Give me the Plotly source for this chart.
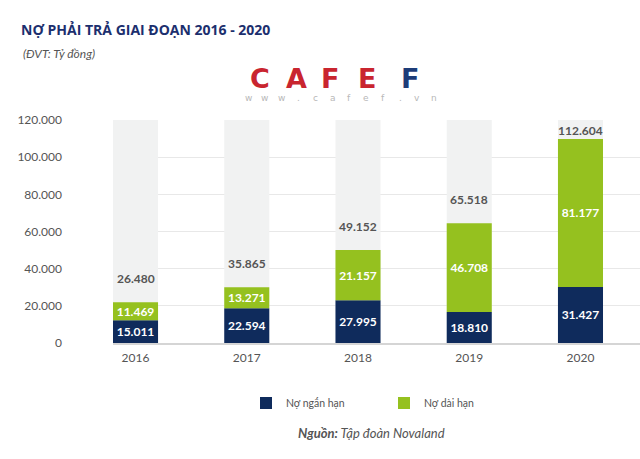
import plotly.graph_objects as go

# ---------------- data ----------------
years = ["2016", "2017", "2018", "2019", "2020"]
# segment heights as drawn in the reference (tỷ đồng)
short_term = [12200, 18700, 23000, 16700, 30200]
long_term = [9700, 11300, 27000, 47700, 79600]
# printed value labels
short_labels = ["15.011", "22.594", "27.995", "18.810", "31.427"]
long_labels = ["11.469", "13.271", "21.157", "46.708", "81.177"]
total_labels = ["26.480", "35.865", "49.152", "65.518", "112.604"]
y_tick_vals = [0, 20000, 40000, 60000, 80000, 100000, 120000]
y_tick_text = ["0", "20.000", "40.000", "60.000", "80.000", "100.000", "120.000"]

# ---------------- style ----------------
W, H = 640, 459
ML, MR, MT, MB = 113, 0, 120, 116
Y_MAX = 120000
NAVY = "#0f2b5c"
GREEN = "#95c11f"
BG_BAR = "#f1f2f2"
GREY_TXT = "#555555"
TITLE_C = "#1c2f6e"
FONT = "Lato"

plot_w = W - ML - MR
plot_h = H - MT - MB


def pxx(x):
    return (x - ML) / plot_w


def pxy(y):
    return (H - MB - y) / plot_h


fig = go.Figure()

fig.add_trace(go.Bar(
    x=years, y=[Y_MAX] * len(years), marker_color=BG_BAR, marker_line_width=0,
    width=0.405, showlegend=False, hoverinfo="skip"))

fig.add_trace(go.Bar(
    x=years, y=short_term, name="Nợ ngắn hạn", marker_color=NAVY,
    marker_line_width=0, width=0.405, text=short_labels,
    textposition="inside", insidetextanchor="middle", constraintext="none",
    textfont=dict(family=FONT, size=12, color="white", weight="bold")))

fig.add_trace(go.Bar(
    x=years, y=long_term, base=short_term, name="Nợ dài hạn",
    marker_color=GREEN, marker_line_width=0, width=0.405, text=long_labels,
    textposition="inside", insidetextanchor="middle", constraintext="none",
    textfont=dict(family=FONT, size=12, color="white", weight="bold")))

annotations = []
shift_units = 24 * Y_MAX / plot_h
cap = Y_MAX * 0.952
for i, (s, l, t) in enumerate(zip(short_term, long_term, total_labels)):
    annotations.append(dict(
        x=i, y=min(s + l + shift_units, cap), xref="x", yref="y", text=t,
        showarrow=False, yanchor="middle",
        font=dict(family=FONT, size=12, color=GREY_TXT, weight="bold")))

# subtitle
annotations.append(dict(
    x=pxx(21), y=pxy(53), xref="paper", yref="paper", text="<i>(ĐVT: Tỷ đồng)</i>",
    showarrow=False, xanchor="left", yanchor="middle",
    font=dict(family=FONT, size=12, color=GREY_TXT)))

# watermark logo (text)
logo_letters = [("C", 260, "#c9252f"), ("A", 296, "#c9252f"), ("F", 330, "#c9252f"),
                ("E", 367, "#c9252f"), ("F", 410, "#1d3c78")]
for ch, cx, col in logo_letters:
    annotations.append(dict(
        x=pxx(cx), y=pxy(79), xref="paper", yref="paper",
        text="<b>" + ch + "</b>",
        showarrow=False, xanchor="center", yanchor="middle",
        font=dict(family="DejaVu Sans", size=27, color=col)))
for i, ch in enumerate("www.cafef.vn"):
    annotations.append(dict(
        x=pxx(248 + i * 16.9), y=pxy(98), xref="paper", yref="paper", text=ch,
        showarrow=False, xanchor="center", yanchor="middle",
        font=dict(family="DejaVu Sans", size=9, color="#b8b8b8")))

# source
annotations.append(dict(
    x=pxx(371), y=pxy(433), xref="paper", yref="paper",
    text="<i><b>Nguồn:</b> Tập đoàn Novaland</i>",
    showarrow=False, xanchor="center", yanchor="middle",
    font=dict(family=FONT, size=13, color=GREY_TXT)))

fig.update_layout(
    width=W, height=H,
    margin=dict(l=ML, r=MR, t=MT, b=MB, autoexpand=False),
    paper_bgcolor="white", plot_bgcolor="white",
    barmode="overlay",
    title=dict(text="<b>NỢ PHẢI TRẢ GIAI ĐOẠN 2016 - 2020</b>",
               x=21 / W, xref="container", xanchor="left",
               y=1 - 30 / H, yref="container", yanchor="middle",
               font=dict(family="Open Sans", size=14, color=TITLE_C)),
    font=dict(family=FONT, size=12, color=GREY_TXT),
    xaxis=dict(type="category", range=[-0.2025, 4.535], showgrid=False,
               showline=True, linecolor="#d5d5d5", linewidth=2,
               ticks="", ticklabelstandoff=3,
               tickfont=dict(family=FONT, size=12, color=GREY_TXT),
               fixedrange=True),
    yaxis=dict(range=[0, Y_MAX], tickvals=y_tick_vals, ticktext=y_tick_text,
               showgrid=True, gridcolor="#e8e8e8", gridwidth=1,
               zeroline=False, showline=False, ticks="",
               ticklabelstandoff=50,
               tickfont=dict(family=FONT, size=12, color=GREY_TXT),
               fixedrange=True),
    legend=dict(orientation="h", x=pxx(246), y=pxy(403), xanchor="left",
                yanchor="middle", entrywidth=93, traceorder="normal",
                font=dict(family=FONT, size=10.5, color=GREY_TXT),
                bgcolor="rgba(0,0,0,0)"),
    annotations=annotations,
    showlegend=True,
)

fig.write_html("out.html", config={"displayModeBar": False},
               post_script="document.body.style.margin='0';")
